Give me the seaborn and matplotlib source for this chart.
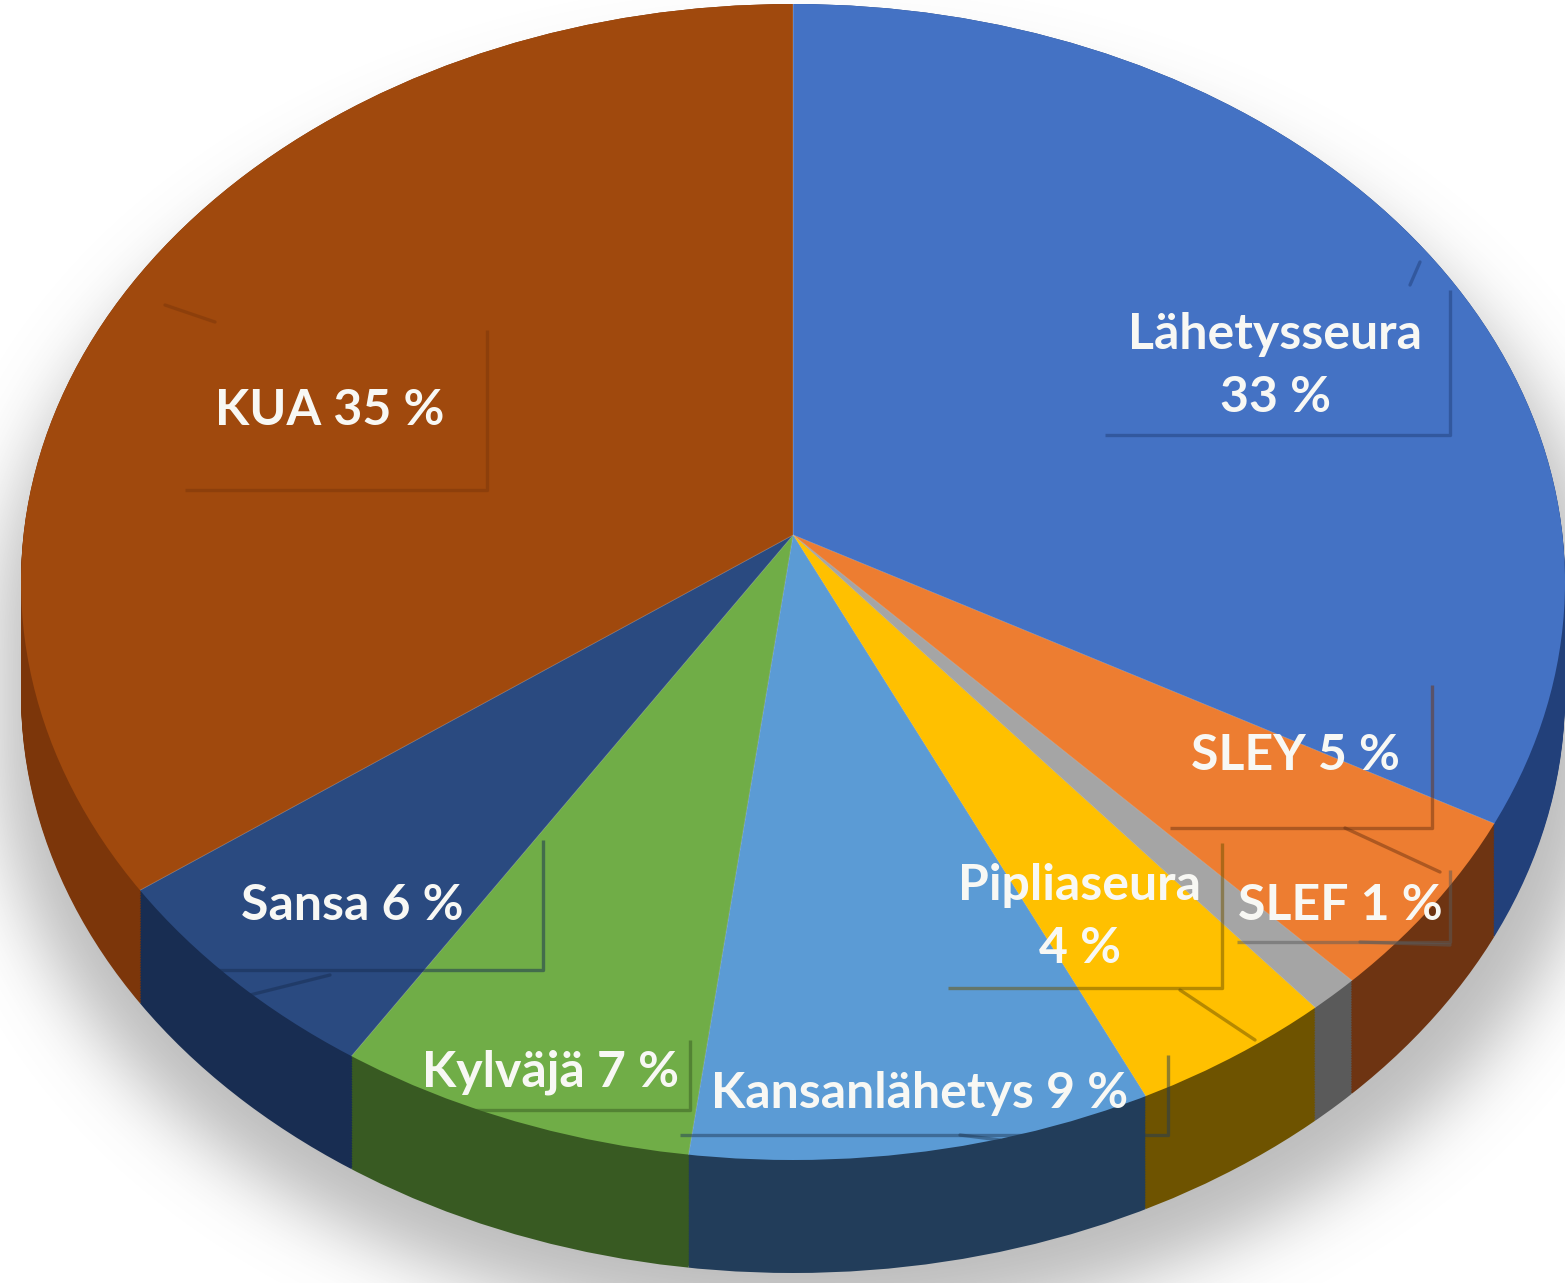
import numpy as np
import matplotlib
matplotlib.use("Agg")
import matplotlib.pyplot as plt
import seaborn as sns

# slices, clockwise from 12 o'clock
labels = ["Lähetysseura", "SLEY", "SLEF", "Pipliaseura", "Kansanlähetys", "Kylväjä", "Sansa", "KUA"]
shares = [33, 5, 1, 4, 9, 7, 6, 35]
label_texts = ["Lähetysseura\n33 %", "SLEY 5 %", "SLEF 1 %", "Pipliaseura\n4 %",
               "Kansanlähetys 9 %", "Kylväjä 7 %", "Sansa 6 %", "KUA 35 %"]

top_colors = ["#4472C4", "#ED7D31", "#A5A5A5", "#FFC000", "#5B9BD5", "#70AD47", "#2A4A80", "#A0490D"]
side_colors = ["#22407A", "#6E3412", "#5A5A5A", "#6E5300", "#223D5A", "#385A22", "#182D52", "#7C360A"]

# geometry of the tilted pie, in output pixels
W, H = 1565, 1283
cx, cy = 793, 582      # centre of the top ellipse
rx, ry = 772, 578
apex_up = 47           # perspective: slices meet a bit above the ellipse centre
depth = 113


def px(x, y):
    # pixel position -> data coords of the unit pie
    return (x - cx) / rx, (cy - y) / ry


sns.set_theme(style="white")
plt.rcParams["font.family"] = ["Lato", "DejaVu Sans"]

fig = plt.figure(figsize=(W / 100, H / 100), dpi=100)
ax = fig.add_axes([0, 0, 1, 1])

# soft drop shadow: blurred silhouette of the disc, a bit larger and lower
pad = 200
PH, PW = H + 2 * pad, W + 2 * pad
gx, gy = np.meshgrid(np.arange(PW) - pad, np.arange(PH) - pad)
sx, sy = rx * 1.04, ry * 1.0
scx, scy = cx + 8, cy + 55
u = (gx - scx) / sx
top_in = u ** 2 + ((gy - scy) / sy) ** 2 <= 1
bot_in = u ** 2 + ((gy - scy - depth) / sy) ** 2 <= 1
mid_in = (np.abs(u) <= 1) & (gy >= scy) & (gy <= scy + depth)
mask = (top_in | bot_in | mid_in).astype(float)
sig = 34.0
fy = np.fft.fftfreq(PH)[:, None]
fx = np.fft.rfftfreq(PW)[None, :]
kern = np.exp(-2 * (np.pi * sig) ** 2 * (fx ** 2 + fy ** 2))
blur = np.fft.irfft2(np.fft.rfft2(mask) * kern, s=(PH, PW))[pad:pad + H, pad:pad + W]
shadow = np.zeros((H, W, 4))
shadow[..., :3] = 0.42
shadow[..., 3] = 0.45 * np.clip(blur, 0, 1)
x0, y1 = px(0, 0)
x1, y0 = px(W, H)
ax.imshow(shadow, extent=(x0, x1, y0, y1), zorder=0, interpolation="bilinear")


def disc(colors, off, **wp):
    # one layer of the pie: slices from the apex, cut to the ellipse
    ws, _ = ax.pie(shares, colors=colors, startangle=90, counterclock=False,
                   radius=1.1, center=(0, apex_up / ry - off), wedgeprops=wp)
    rim = plt.Circle((0, -off), 1, transform=ax.transData)
    for w in ws:
        w.set_clip_on(True)
        w.set_clip_path(rim)
    return ws


# side of the disc: the same pie stacked downwards in darker colours
for off in np.linspace(depth / ry, 0, 70):
    disc(side_colors, off, linewidth=0, antialiased=True)

# top face
disc(top_colors, 0, linewidth=0.6, edgecolor="#ffffff30")

ax.set_aspect("auto")
ax.set_xlim(x0, x1)
ax.set_ylim(y0, y1)
ax.axis("off")

# data labels (centre of text, pixels) and the callout shadow edges
label_pos = [(1275, 366), (1295, 755), (1340, 905), (1080, 917),
             (920, 1093), (550, 1072), (352, 905), (330, 410)]
callout_boxes = [(1105, 290, 1450, 435), (1170, 685, 1432, 828), (1237, 870, 1450, 942),
                 (948, 843, 1222, 988), (680, 1055, 1168, 1135), (420, 1040, 690, 1110),
                 (160, 840, 543, 970), (185, 330, 487, 490)]
leaders = [[(1410, 285), (1420, 262)], [(1345, 828), (1440, 872)], [(1360, 942), (1450, 945)],
           [(1180, 990), (1255, 1040)], [(960, 1135), (1000, 1140)], [(410, 1110), (520, 1130)],
           [(250, 995), (330, 975)], [(165, 305), (215, 322)]]

for i, txt in enumerate(label_texts):
    tx, ty = px(*label_pos[i])
    ax.text(tx, ty, txt, ha="center", va="center", color="#F8F8F4",
            fontsize=36, fontweight="bold", linespacing=1.5, zorder=5)
    bx0, by0, bx1, by1 = callout_boxes[i]
    edge = side_colors[i]
    xs, ys = zip(px(bx1, by0), px(bx1, by1), px(bx0, by1))
    ax.plot(xs, ys, color=edge, lw=2.4, alpha=0.5, zorder=4, solid_capstyle="butt")
    lx, ly = zip(*[px(*p) for p in leaders[i]])
    ax.plot(lx, ly, color=edge, lw=2.4, alpha=0.5, zorder=4)

fig.savefig("out.png", dpi=100)
